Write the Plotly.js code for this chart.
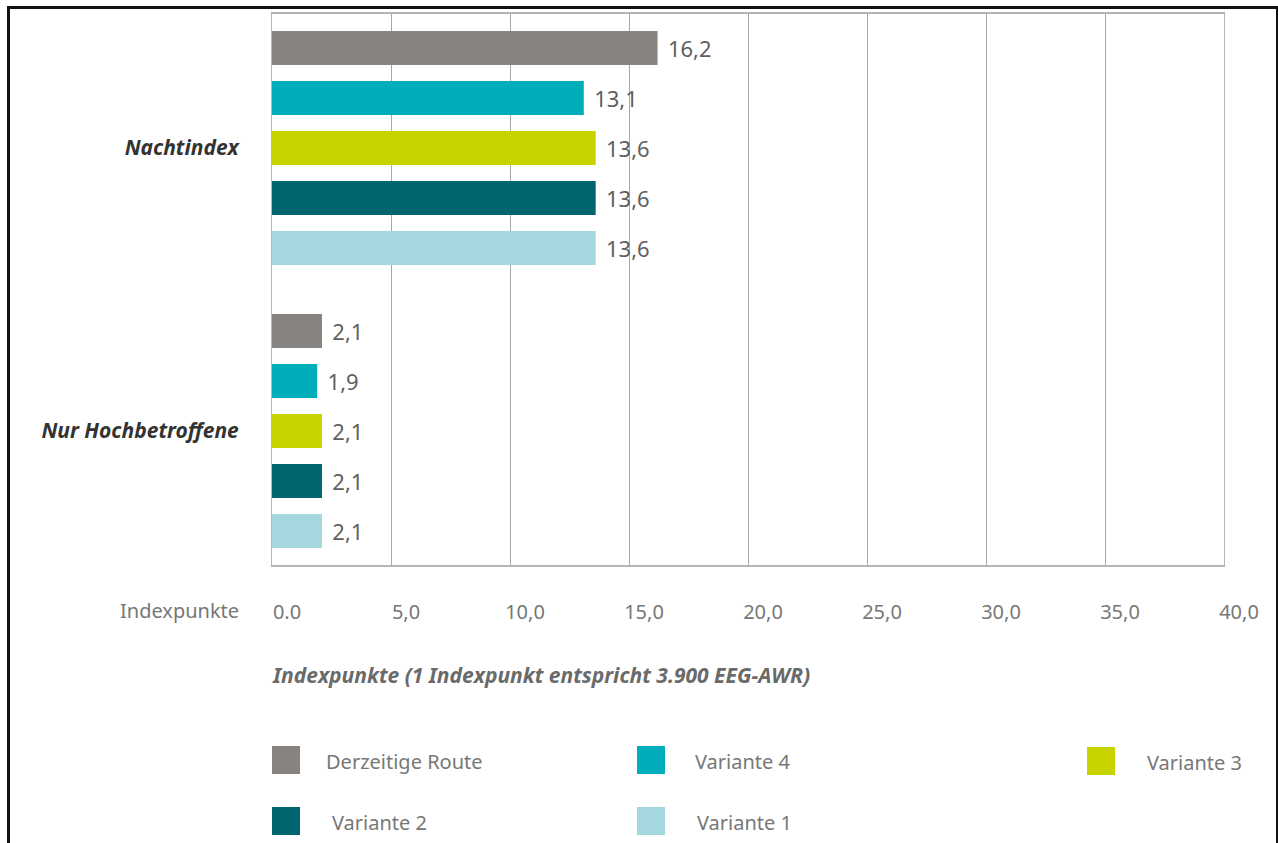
<!DOCTYPE html>
<html><head><meta charset="utf-8">
<script src="https://cdn.plot.ly/plotly-3.0.1.min.js"></script>
<style>
html,body{margin:0;padding:0;background:#fff;}
#frame{position:absolute;left:7px;top:6px;width:1266px;height:900px;border:3px solid #111;pointer-events:none;z-index:10;}
#chart{position:absolute;left:0;top:0;width:1278px;height:843px;}
</style></head>
<body>
<div id="chart"></div>
<div id="frame"></div>
<script>
// ---- data ----
const categories = ['Nur Hochbetroffene', 'Nachtindex'];
const seriesNames = ['Derzeitige Route', 'Variante 4', 'Variante 3', 'Variante 2', 'Variante 1'];
const seriesColors = ['#878381', '#00adba', '#c8d400', '#00656e', '#a5d7de'];
// values per series: [Nur Hochbetroffene, Nachtindex]
const derzeitigeRoute = [2.1, 16.2];
const variante4 = [1.9, 13.1];
const variante3 = [2.1, 13.6];
const variante2 = [2.1, 13.6];
const variante1 = [2.1, 13.6];
const seriesValues = [derzeitigeRoute, variante4, variante3, variante2, variante1];
const tickVals = [0, 5, 10, 15, 20, 25, 30, 35, 40];
const tickText = ['0.0', '5,0', '10,0', '15,0', '20,0', '25,0', '30,0', '35,0', '40,0'];
const axisLabel = 'Indexpunkte';
const xTitle = 'Indexpunkte (1 Indexpunkt entspricht 3.900 EEG-AWR)';

const FONT = 'Noto Sans, Open Sans, sans-serif';

// plotly puts first trace at the bottom of a horizontal group -> add in reverse
const traces = [];
for (let i = seriesNames.length - 1; i >= 0; i--) {
  traces.push({
    type: 'bar', orientation: 'h',
    name: seriesNames[i],
    y: categories, x: seriesValues[i],
    marker: {color: seriesColors[i], line: {width: 0}},
    texttemplate: '\u2006\u2006%{x:.1f}', textposition: 'outside', cliponaxis: false,
    textfont: {family: FONT, size: 22, color: '#5f5f5f'},
    hoverinfo: 'skip'
  });
}

// plot area pixels
const L = 272, R = 1224, T = 14, B = 565, W = 1278, H = 843;
const px = x => (x - L) / (R - L);
const py = y => (B - y) / (B - T);

const shapes = [];
const annotations = [];
// legend (manual layout)
const legendPos = [
  {sq: [272, 760], tx: [324, 761]},
  {sq: [637, 760], tx: [693, 761]},
  {sq: [1087, 761], tx: [1145, 763]},
  {sq: [272, 821], tx: [330, 822]},
  {sq: [637, 821], tx: [695, 822]}
];
seriesNames.forEach((n, i) => {
  const p = legendPos[i];
  shapes.push({type: 'rect', xref: 'paper', yref: 'paper',
    x0: px(p.sq[0]), x1: px(p.sq[0] + 28), y0: py(p.sq[1] - 14), y1: py(p.sq[1] + 14),
    fillcolor: seriesColors[i], line: {width: 0}});
  annotations.push({xref: 'paper', yref: 'paper', x: px(p.tx[0]), y: py(p.tx[1]),
    xanchor: 'left', yanchor: 'middle', showarrow: false, text: n,
    font: {family: FONT, size: 20, color: '#777'}});
});
annotations.push({xref: 'paper', yref: 'paper', x: px(241), y: py(610),
  xanchor: 'right', yanchor: 'middle', showarrow: false, text: axisLabel,
  font: {family: FONT, size: 20, color: '#777'}});
annotations.push({xref: 'paper', yref: 'paper', x: px(270), y: py(675),
  xanchor: 'left', yanchor: 'middle', showarrow: false, text: '<i><b>' + xTitle + '</b></i>',
  font: {family: FONT, size: 21, color: '#6a6a6a'}});

const layout = {
  width: W, height: H,
  margin: {l: L, r: W - R, t: T, b: H - B, pad: 0},
  paper_bgcolor: '#fff', plot_bgcolor: '#fff',
  separators: ',.',
  barmode: 'group', bargap: 0.1166, bargroupgap: 0.32,
  showlegend: false,
  xaxis: {range: [0, 40], tickvals: tickVals, ticktext: tickText,
    showgrid: true, gridcolor: '#a8a8a8', gridwidth: 1,
    showline: true, linecolor: '#b5b5b5', linewidth: 2, mirror: true,
    zeroline: false, ticks: '',
    ticklabelstandoff: 28, ticklabelshift: 15,
    tickfont: {family: FONT, size: 20, color: '#777'}},
  yaxis: {type: 'category', categoryorder: 'array', categoryarray: categories,
    range: [-0.4735, 1.4735],
    showgrid: false, showline: true, linecolor: '#b5b5b5', linewidth: 1, mirror: true,
    zeroline: false, ticks: '',
    ticklabelstandoff: 28,
    tickfont: {family: FONT, size: 21, color: '#333', weight: 'bold', style: 'italic'}},
  shapes: shapes,
  annotations: annotations
};

Plotly.newPlot('chart', traces, layout, {displayModeBar: false, staticPlot: true});
</script>
</body></html>
